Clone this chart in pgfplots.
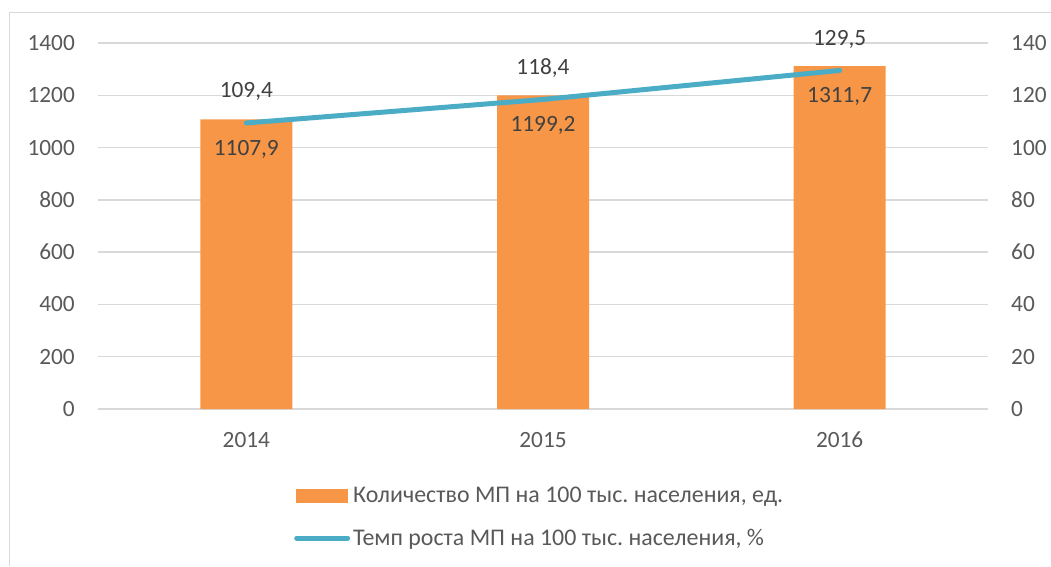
\documentclass[border=0pt]{standalone}
\usepackage{fontspec}
\setmainfont{Carlito}
\usepackage{pgfplots}
\pgfplotsset{compat=1.18}
\definecolor{barc}{HTML}{F79646}
\definecolor{linec}{HTML}{4BACC6}
\definecolor{gridc}{HTML}{D9D9D9}
\definecolor{tickc}{HTML}{595959}
\definecolor{labc}{HTML}{404040}
\newcommand{\cf}{\fontsize{23.3pt}{28pt}\selectfont}
\newcommand{\lf}{\fontsize{23.9pt}{28pt}\selectfont}
\frenchspacing
\pgfplotsset{common/.style={
  scale only axis, width=890pt, height=366pt, at={(98pt,157pt)}, anchor=south west,
  xmin=-0.5, xmax=2.5, clip=false,
  axis line style={draw=none}, major tick length=0pt,
  tick label style={font=\cf, text=tickc, inner sep=0pt},
  /pgf/number format/assume math mode=true,
  /pgf/number format/1000 sep={},
}}
\begin{document}
\begin{tikzpicture}
\path[use as bounding box] (0,0) rectangle (1051pt,566pt);
\draw[gridc, line width=1pt] (9.5pt,0pt) -- (9.5pt,553pt) -- (1051pt,553pt);
\begin{axis}[common, ymin=0, ymax=1400, ytick={0,200,...,1400},
  ymajorgrids, grid style={gridc, line width=1.3pt},
  xtick={0,1,2}, xticklabels={2014,2015,2016},
  yticklabel style={anchor=east, xshift=-23pt},
  xticklabel style={anchor=north, yshift=-23pt}]
\addplot[ybar, bar width=92pt, fill=barc, draw=none,
  nodes near coords={\pgfmathprintnumber[fixed, fixed zerofill, precision=1, use comma, 1000 sep={}, assume math mode=true]{\pgfplotspointmeta}},
  every node near coord/.append style={anchor=base, yshift=-36pt, font=\cf, text=labc}]
  coordinates {(0,1107.9) (1,1199.2) (2,1311.7)};
\end{axis}
\begin{axis}[common, ymin=0, ymax=140, ytick={0,20,...,140}, xtick=\empty,
  axis y line*=right,
  yticklabel style={anchor=west, xshift=23pt},
  legend style={at={(0.2202,-0.213)}, anchor=north west, draw=none, fill=none,
    inner sep=0pt, font=\lf, text=tickc, row sep=25pt, nodes={inner sep=0pt},
    /tikz/every odd column/.append style={column sep=3pt}},
  legend cell align=left]
\addlegendimage{legend image code/.code={\path[draw=none, fill=none] (0pt,-8pt) rectangle (56pt,8pt); \fill[barc, draw=none] (2pt,-7pt) rectangle (54pt,7pt);}}
\addlegendentry{Количество МП на 100 тыс. населения, ед.}
\addplot[linec, line width=5pt, line cap=round,
  nodes near coords={\pgfmathprintnumber[fixed, fixed zerofill, precision=1, use comma, 1000 sep={}, assume math mode=true]{\pgfplotspointmeta}},
  every node near coord/.append style={anchor=base, yshift=25pt, font=\cf, text=labc},
  legend image code/.code={\path[draw=none, fill=none] (0pt,-8pt) rectangle (56pt,8pt); \draw[linec, line width=5pt, line cap=round] (2.5pt,0pt) -- (53.5pt,0pt);}]
  coordinates {(0,109.4) (1,118.4) (2,129.5)};
\addlegendentry{Темп роста МП на 100 тыс. населения, \%}
\end{axis}
\end{tikzpicture}
\end{document}
